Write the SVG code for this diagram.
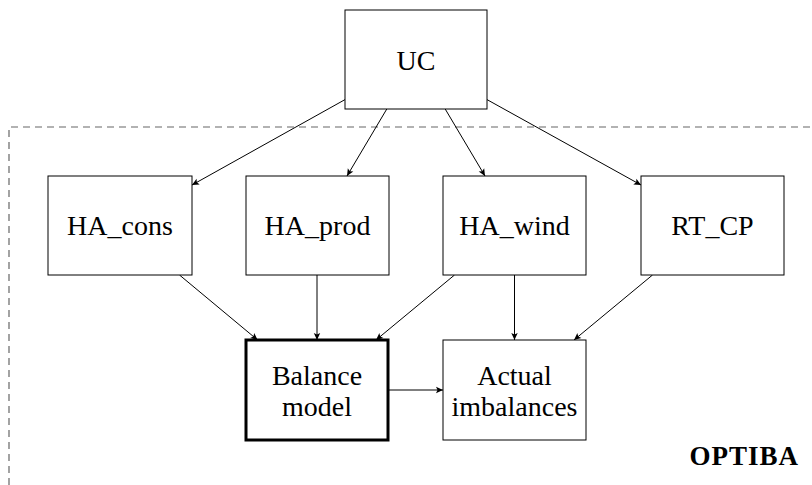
<svg xmlns="http://www.w3.org/2000/svg" width="812" height="485" viewBox="0 0 812 485">
<style>
.box{fill:#fff;stroke:#000;stroke-width:1}
.thick{fill:#fff;stroke:#000;stroke-width:3}
.t{font-family:"Liberation Serif","DejaVu Serif",serif;font-size:28px;fill:#000;text-anchor:middle;dominant-baseline:central}
.e{fill:none;stroke:#000;stroke-width:1;marker-end:url(#ah)}
.frame{fill:none;stroke:#666;stroke-width:1.2;stroke-dasharray:7 5}
</style>
<defs>
<marker id="ah" markerUnits="userSpaceOnUse" viewBox="-8 -4 9 8" refX="0" refY="0" markerWidth="9" markerHeight="8" orient="auto">
<path d="M0,0 L-7,-3.2 L-5.5,0 L-7,3.2 z" fill="#000"/>
</marker>
</defs>
<g id="frame">
<path class="frame" d="M9,485 L9,127 L812,127"/>
</g>
<g id="connectors">
<line class="e" x1="345" y1="99.6" x2="192" y2="185"/>
<line class="e" x1="386.8" y1="109" x2="347" y2="176"/>
<line class="e" x1="445.2" y1="109" x2="485" y2="176"/>
<line class="e" x1="487" y1="99.6" x2="641" y2="185"/>
<line class="e" x1="179.5" y1="275" x2="257.6" y2="340"/>
<line class="e" x1="317" y1="275" x2="317" y2="340"/>
<line class="e" x1="454.5" y1="275" x2="376" y2="340"/>
<line class="e" x1="514.5" y1="275" x2="514.5" y2="340"/>
<line class="e" x1="652.5" y1="275" x2="574" y2="340"/>
<line class="e" x1="389" y1="390" x2="443" y2="390"/>
</g>
<g id="UC"><rect class="box" x="345" y="10" width="142" height="99"/><text class="t" x="416" y="60">UC</text></g>
<g id="HA_cons"><rect class="box" x="48" y="176" width="144" height="99"/><text class="t" x="120" y="225">HA_cons</text></g>
<g id="HA_prod"><rect class="box" x="246" y="176" width="143" height="99"/><text class="t" x="317.5" y="225">HA_prod</text></g>
<g id="HA_wind"><rect class="box" x="443" y="176" width="143" height="99"/><text class="t" x="514.5" y="225">HA_wind</text></g>
<g id="RT_CP"><rect class="box" x="641" y="176" width="143" height="99"/><text class="t" x="712.5" y="225">RT_CP</text></g>
<g id="Balance"><rect class="thick" x="246" y="340" width="142" height="100"/><text class="t" x="317" y="375">Balance</text><text class="t" x="317" y="406">model</text></g>
<g id="Actual"><rect class="box" x="443" y="340" width="143" height="100"/><text class="t" x="514.5" y="375">Actual</text><text class="t" x="514.5" y="406">imbalances</text></g>
<text x="799" y="456" style="font-family:'Liberation Serif','DejaVu Serif',serif;font-size:27px;font-weight:bold;letter-spacing:1px;text-anchor:end;dominant-baseline:central">OPTIBA</text>
</svg>
